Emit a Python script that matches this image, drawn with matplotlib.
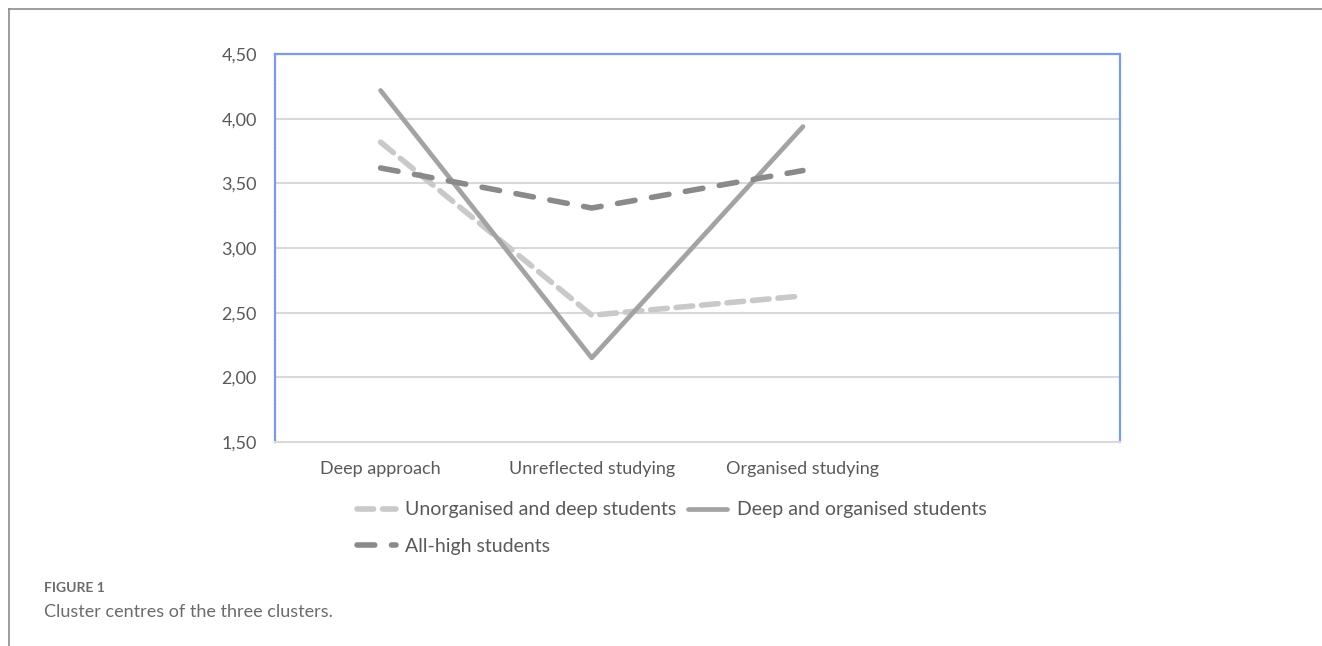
import matplotlib.pyplot as plt
from matplotlib.lines import Line2D

categories = ['Deep approach', 'Unreflected studying', 'Organised studying', '']
unorganised_deep = [3.82, 2.48, 2.63]
deep_organised = [4.22, 2.15, 3.94]
all_high = [3.62, 3.31, 3.60]
yticks = [1.5, 2.0, 2.5, 3.0, 3.5, 4.0, 4.5]

plt.rcParams['font.family'] = ['Lato', 'DejaVu Sans']

fig = plt.figure(figsize=(13.22, 6.46), dpi=100)
ax = fig.add_axes([0.208, 0.316, 0.639, 0.600])

x = list(range(len(unorganised_deep)))
l1, = ax.plot(x, unorganised_deep, color='#c9c9c9', lw=4, ls=(0, (3, 1.6)),
              solid_capstyle='round', dash_capstyle='round')
l2, = ax.plot(x, deep_organised, color='#a3a3a3', lw=3.4, solid_capstyle='round')
l3, = ax.plot(x, all_high, color='#8a8a8a', lw=4, ls=(0, (3.2, 3)),
              dash_capstyle='round')

ax.set_xlim(-0.5, len(categories) - 0.5)
ax.set_ylim(1.5, 4.5)
ax.set_yticks(yticks)
ax.set_yticklabels([f'{v:.2f}'.replace('.', ',') for v in yticks])
ax.set_xticks(range(len(categories)))
ax.set_xticklabels(categories)
ax.tick_params(length=0, labelsize=13, colors='#595959')
ax.tick_params(axis='y', pad=13)
ax.tick_params(axis='x', pad=14)
ax.grid(axis='y', color='#d9d9d9', lw=1.5)
ax.set_axisbelow(True)
for s in ['top', 'right', 'left']:
    ax.spines[s].set_color('#7d9be0')
    ax.spines[s].set_linestyle((0, (0.8, 0.8)))
    ax.spines[s].set_linewidth(1.6)
ax.spines['bottom'].set_color('#d9d9d9')
ax.spines['bottom'].set_linewidth(1.5)

leg = fig.legend([l1, l3, l2],
                 ['Unorganised and deep students', 'All-high students', 'Deep and organised students'],
                 ncol=2, loc='upper left', bbox_to_anchor=(0.264, 0.236), frameon=False,
                 fontsize=14, labelcolor='#595959', handlelength=2.0, handletextpad=0.5,
                 columnspacing=0.6, labelspacing=1.0, borderaxespad=0)

# figure frame (top and left)
fig.add_artist(Line2D([0.007, 1.0], [0.986, 0.986], color='#8c8c8c', lw=1.2))
fig.add_artist(Line2D([0.007, 0.007], [0.0, 0.986], color='#8c8c8c', lw=1.2))

fig.text(0.033, 0.090, 'FIGURE 1', fontsize=10, fontweight='bold', color='#6b6b6b', va='center')
fig.text(0.033, 0.052, 'Cluster centres of the three clusters.', fontsize=13, color='#6b6b6b', va='center')

fig.savefig('out.png', dpi=100)
